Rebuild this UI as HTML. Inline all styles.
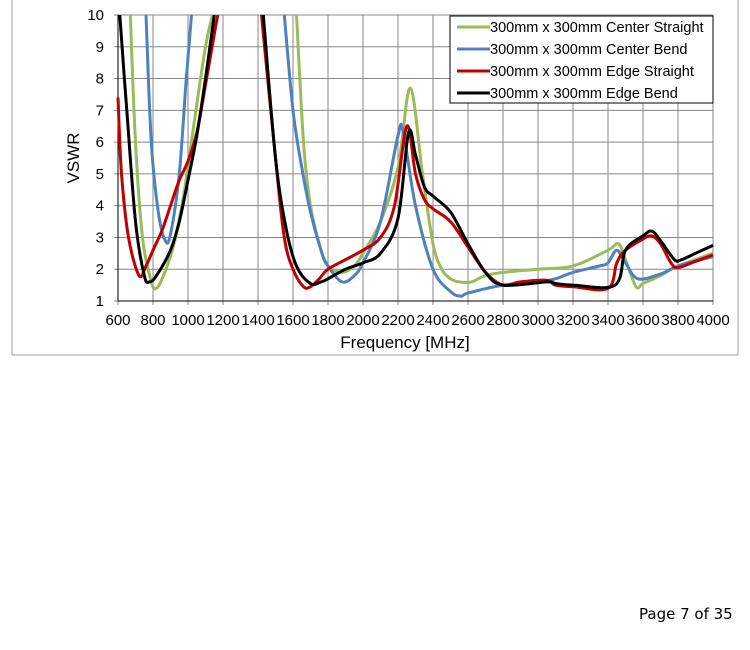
<!DOCTYPE html>
<html><head><meta charset="utf-8"><style>
body{margin:0;background:#fff;width:750px;height:650px;overflow:hidden;position:relative;font-family:"Liberation Sans",Arial,sans-serif}
#pg{position:absolute;left:639px;top:605px;font-family:"DejaVu Sans",Verdana,sans-serif;font-size:15px;color:#000}
</style></head><body>
<svg id="s" width="750" height="650" style="position:absolute;left:0;top:0">
<rect x="12" y="-5" width="726" height="360" fill="#fff" stroke="#a0a0a0" stroke-width="1"/>
<g id="grid" stroke="#888" stroke-width="1"></g>
<g id="lab" font-size="15" fill="#000"></g>
<g id="ser" fill="none" stroke-width="3" stroke-linejoin="round"></g>
<rect x="450" y="16" width="263" height="87" fill="#fff" stroke="#000" stroke-width="1"/>
<g font-size="14.5" fill="#000">
<line x1="457" y1="27" x2="490" y2="27" stroke="#9bbb59" stroke-width="3"/><text x="490" y="32">300mm x 300mm Center Straight</text>
<line x1="457" y1="49" x2="490" y2="49" stroke="#4f81bd" stroke-width="3"/><text x="490" y="54">300mm x 300mm Center Bend</text>
<line x1="457" y1="71" x2="490" y2="71" stroke="#c00000" stroke-width="3"/><text x="490" y="76">300mm x 300mm Edge Straight</text>
<line x1="457" y1="93" x2="490" y2="93" stroke="#000" stroke-width="3"/><text x="490" y="98">300mm x 300mm Edge Bend</text>
</g>
<text x="405" y="348" font-size="17" text-anchor="middle">Frequency [MHz]</text>
<text transform="translate(79,158) rotate(-90)" font-size="17" text-anchor="middle">VSWR</text>
</svg>
<div id="pg">Page 7 of 35</div>
<script>
const X=f=>118+(f-600)*0.175, Y=v=>301-(v-1)*31.78;
const NS="http://www.w3.org/2000/svg";
const g=document.getElementById('grid'),l=document.getElementById('lab'),s=document.getElementById('ser');
function el(p,t,a){const e=document.createElementNS(NS,t);for(const k in a)e.setAttribute(k,a[k]);p.appendChild(e);return e;}
for(let f=600;f<=4000;f+=200){el(g,'line',{x1:X(f),x2:X(f),y1:Y(10),y2:Y(1)+4});const t=el(l,'text',{x:X(f),y:325,'text-anchor':'middle'});t.textContent=f;}
for(let v=1;v<=10;v++){el(g,'line',{x1:X(600)-4,x2:X(4000),y1:Y(v),y2:Y(v)});const t=el(l,'text',{x:104,y:Y(v)+5,'text-anchor':'end'});t.textContent=v;}
el(g,'line',{x1:118,x2:118,y1:Y(10),y2:Y(1),stroke:'#000'});
el(g,'line',{x1:118,x2:X(4000),y1:Y(1),y2:Y(1),stroke:'#000'});
const D={
'#9bbb59':[[[670,10],[700,6],[740,3],[790,1.6],[820,1.4],[860,1.8],[920,2.8],[980,4.5],[1040,6.8],[1100,9],[1140,10]],
[[1620,10],[1660,6],[1700,4],[1760,2.6],[1800,2.1],[1880,1.9],[1950,2.1],[2000,2.5],[2100,3.5],[2200,5.2],[2270,7.7],[2340,5],[2400,2.8],[2450,2.0],[2500,1.7],[2550,1.6],[2620,1.6],[2700,1.8],[2800,1.9],[3000,2.0],[3200,2.1],[3400,2.6],[3460,2.8],[3500,2.3],[3560,1.45],[3600,1.55],[3700,1.8],[3800,2.1],[4000,2.5]]],
'#4f81bd':[[[760,10],[790,6],[830,3.8],[870,2.9],[900,3.1],[950,5],[990,8],[1020,10]],
[[1550,10],[1600,7],[1650,5.2],[1700,3.8],[1760,2.6],[1800,2.1],[1880,1.6],[1950,1.8],[2000,2.2],[2100,3.5],[2200,6.2],[2230,6.3],[2300,4],[2400,2.0],[2500,1.3],[2560,1.15],[2600,1.25],[2800,1.5],[3000,1.6],[3100,1.7],[3200,1.9],[3350,2.1],[3400,2.2],[3450,2.6],[3500,2.2],[3570,1.7],[3700,1.85],[3800,2.1],[4000,2.4]]],
'#c00000':[[[600,7.4],[620,5],[660,3],[720,1.8],[760,2.1],[800,2.6],[850,3.2],[900,4.0],[950,4.8],[1000,5.4],[1050,6.3],[1100,7.8],[1150,9.4],[1170,10]],
[[1420,10],[1500,5.5],[1550,3.0],[1600,2.0],[1660,1.45],[1700,1.45],[1750,1.7],[1800,2.0],[1900,2.3],[2000,2.6],[2100,3.0],[2180,4.0],[2250,6.5],[2300,5.0],[2350,4.2],[2400,3.9],[2500,3.5],[2600,2.7],[2700,1.9],[2800,1.5],[2900,1.6],[3050,1.65],[3100,1.5],[3200,1.45],[3400,1.4],[3450,2.2],[3500,2.6],[3600,2.95],[3650,3.05],[3700,2.8],[3760,2.2],[3800,2.05],[3900,2.25],[4000,2.45]]],
'#000':[[[610,10],[650,7],[700,3.5],[750,1.8],[780,1.6],[820,1.8],[900,2.6],[950,3.5],[1000,4.8],[1050,6.2],[1100,8],[1150,10]],
[[1430,10],[1500,5.5],[1560,3.3],[1620,2.1],[1700,1.55],[1760,1.6],[1800,1.7],[1900,2.0],[2000,2.2],[2100,2.5],[2200,3.6],[2260,6.3],[2300,5.6],[2350,4.6],[2400,4.3],[2500,3.8],[2600,2.8],[2700,1.9],[2800,1.5],[3050,1.6],[3100,1.55],[3200,1.5],[3440,1.5],[3500,2.6],[3600,3.05],[3650,3.2],[3700,2.9],[3780,2.3],[3820,2.3],[3900,2.5],[4000,2.75]]]};
function path(pts){const P=pts.map(p=>[X(p[0]),Y(p[1])]);let d='M'+P[0][0].toFixed(1)+','+P[0][1].toFixed(1);
for(let i=0;i<P.length-1;i++){const p0=P[i-1]||P[i],p1=P[i],p2=P[i+1],p3=P[i+2]||P[i+1];const t=0.5/3;
const c1=[p1[0]+(p2[0]-p0[0])*t,p1[1]+(p2[1]-p0[1])*t],c2=[p2[0]-(p3[0]-p1[0])*t,p2[1]-(p3[1]-p1[1])*t];
d+=' C'+c1.map(v=>v.toFixed(1))+' '+c2.map(v=>v.toFixed(1))+' '+p2.map(v=>v.toFixed(1));}return d;}
el(s,'clipPath',{id:'cp'});
const cp=s.lastChild;el(cp,'rect',{x:110,y:Y(10),width:610,height:Y(1)-Y(10)});
for(const c in D)for(const seg of D[c])el(s,'path',{stroke:c,d:path(seg),'clip-path':'url(#cp)'});
</script>
</body></html>
